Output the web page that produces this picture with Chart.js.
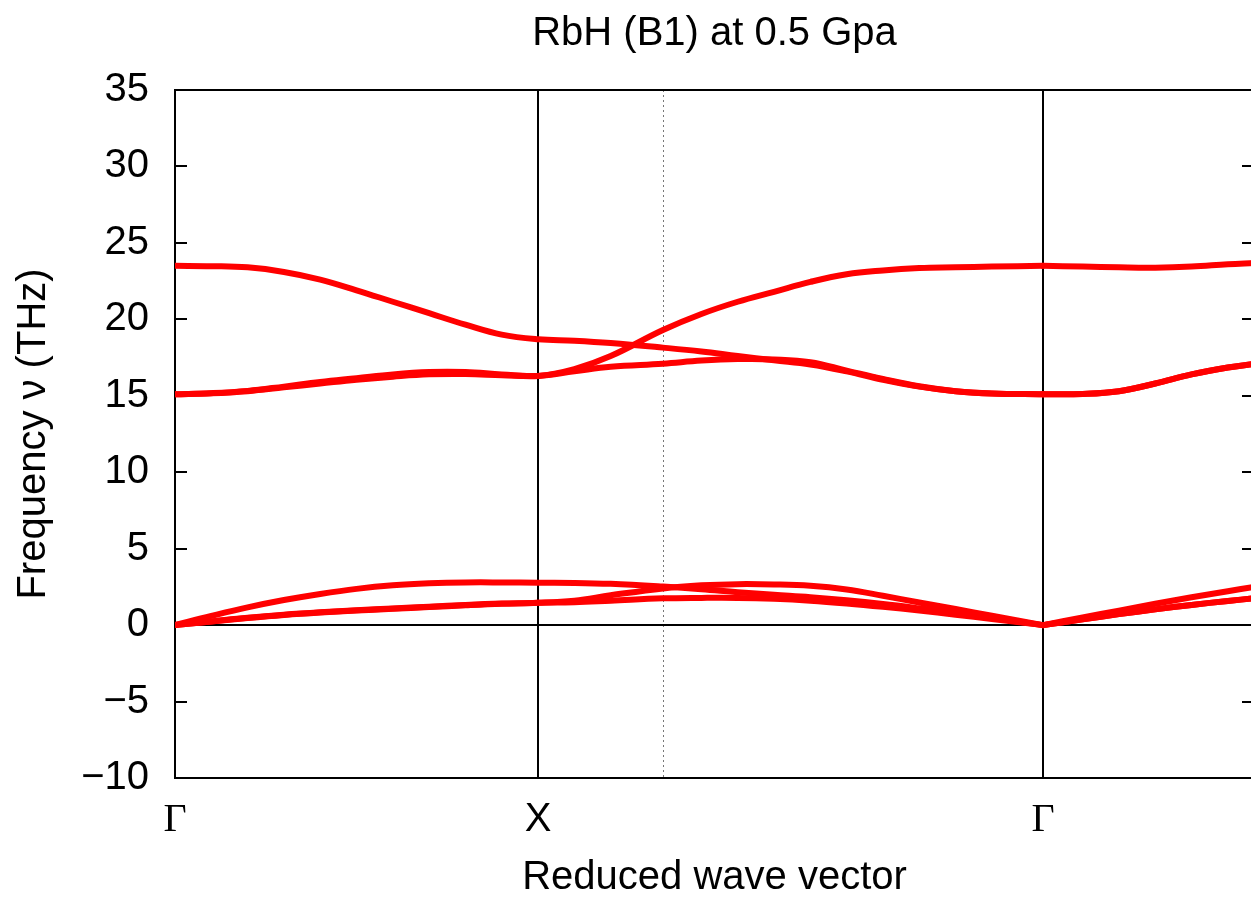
<!DOCTYPE html>
<html>
<head>
<meta charset="utf-8">
<title>RbH (B1) at 0.5 Gpa</title>
<script src="https://cdn.jsdelivr.net/npm/chart.js@4.4.1/dist/chart.umd.min.js"></script>
<style>
  html, body { margin: 0; padding: 0; overflow: hidden; background: #fff; }
  #wrap { width: 1262px; height: 902px; }
</style>
</head>
<body>
<div id="wrap"><canvas id="bands" width="1262" height="902"></canvas></div>
<script>
// path coordinate along Γ-X-U|K-Γ (reduced units)
const kPath = [0, 0.1, 0.2, 0.3, 0.4, 0.5, 0.6, 0.7, 0.8, 0.9, 1.0, 1.1, 1.2, 1.344,
  1.45, 1.55, 1.65, 1.75, 1.85, 1.95, 2.05, 2.15, 2.25, 2.391];
// path coordinate along Γ-L (visible part)
const kPathL = [2.391, 2.5, 2.6, 2.7, 2.8, 2.9, 2.972];

// symmetry points
const symPos = [0, 1, 2.391];
const symLabels = ['Γ', 'X', 'Γ'];
const breakPos = [1.344];

// y ticks
const yMin = -10, yMax = 35, yStep = 5;

// optical branches, Γ-X-U|K-Γ
const opt1 = [23.5, 23.48, 23.4, 23.1, 22.6, 21.9, 21.15, 20.4, 19.65, 19.0, 18.7, 18.6, 18.45, 18.15,
  17.9, 17.6, 17.32, 17.05, 16.6, 16.05, 15.6, 15.3, 15.15, 15.1];
const opt2 = [15.1, 15.17, 15.32, 15.6, 15.9, 16.15, 16.4, 16.55, 16.55, 16.4, 16.3, 16.75, 17.6, 19.3,
  20.35, 21.15, 21.8, 22.45, 22.95, 23.2, 23.35, 23.4, 23.45, 23.5];
const opt3 = [15.1, 15.16, 15.3, 15.55, 15.8, 16.05, 16.25, 16.4, 16.42, 16.35, 16.3, 16.6, 16.9, 17.1,
  17.3, 17.4, 17.38, 17.2, 16.65, 16.1, 15.62, 15.3, 15.15, 15.1];
// acoustic branches, Γ-X-U|K-Γ
const ac1 = [0, 0.6, 1.16, 1.64, 2.04, 2.37, 2.6, 2.73, 2.79, 2.79, 2.77, 2.76, 2.7, 2.52,
  2.35, 2.15, 1.98, 1.82, 1.62, 1.38, 1.1, 0.8, 0.48, 0];
const ac2 = [0, 0.24, 0.48, 0.68, 0.84, 0.97, 1.09, 1.2, 1.32, 1.41, 1.46, 1.6, 1.95, 2.4,
  2.6, 2.68, 2.66, 2.57, 2.33, 1.92, 1.48, 1.05, 0.62, 0];
const ac3 = [0, 0.23, 0.46, 0.66, 0.82, 0.95, 1.07, 1.18, 1.3, 1.4, 1.46, 1.5, 1.6, 1.75,
  1.78, 1.78, 1.72, 1.6, 1.42, 1.2, 0.95, 0.68, 0.4, 0];

// branches along Γ-L
const optL1 = [23.5, 23.45, 23.4, 23.38, 23.45, 23.6, 23.68];
const optL2 = [15.1, 15.12, 15.3, 15.8, 16.4, 16.85, 17.08];
const optL3 = [15.1, 15.12, 15.3, 15.8, 16.4, 16.85, 17.08];
const acL1 = [0, 0.5, 0.95, 1.4, 1.82, 2.22, 2.5];
const acL2 = [0, 0.38, 0.72, 1.03, 1.32, 1.58, 1.75];
const acL3 = [0, 0.38, 0.72, 1.03, 1.32, 1.58, 1.75];

const seg1 = [opt1, opt2, opt3, ac1, ac2, ac3];
const seg2 = [optL1, optL2, optL3, acL1, acL2, acL3];

function makeSet(xs, ys) {
  return {
    data: xs.map((x, i) => ({ x: x, y: ys[i] })),
    borderColor: '#ff0000',
    borderWidth: 6,
    pointRadius: 0,
    fill: false,
    tension: 0.4,
    borderJoinStyle: 'round',
    borderCapStyle: 'round'
  };
}

const datasets = seg1.map(b => makeSet(kPath, b)).concat(seg2.map(b => makeSet(kPathL, b)));

// frame, symmetry lines, zero line and inward ticks
const framePlugin = {
  id: 'frame',
  beforeDatasetsDraw(chart) {
    const { ctx, chartArea: a, scales: { x, y } } = chart;
    ctx.save();
    // dotted break line
    ctx.strokeStyle = '#777';
    ctx.lineWidth = 1;
    ctx.setLineDash([2, 3]);
    breakPos.forEach(v => {
      const px = Math.round(x.getPixelForValue(v)) + 0.5;
      ctx.beginPath(); ctx.moveTo(px, a.top); ctx.lineTo(px, a.bottom); ctx.stroke();
    });
    ctx.setLineDash([]);
    ctx.strokeStyle = '#000';
    ctx.lineWidth = 2;
    symPos.forEach(v => {
      const px = Math.round(x.getPixelForValue(v));
      ctx.beginPath(); ctx.moveTo(px, a.top); ctx.lineTo(px, a.bottom); ctx.stroke();
    });
    const y0 = Math.round(y.getPixelForValue(0));
    ctx.beginPath(); ctx.moveTo(a.left, y0); ctx.lineTo(a.right, y0); ctx.stroke();
    // ticks
    for (let v = yMin; v <= yMax; v += yStep) {
      const py = Math.round(y.getPixelForValue(v));
      ctx.beginPath();
      ctx.moveTo(a.left, py); ctx.lineTo(a.left + 12, py);
      ctx.moveTo(a.right, py); ctx.lineTo(a.right - 12, py);
      ctx.stroke();
    }
    ctx.strokeRect(Math.round(a.left), Math.round(a.top), Math.round(a.right - a.left), Math.round(a.bottom - a.top));
    ctx.restore();
  }
};

Chart.defaults.font.family = "'Liberation Sans', Arial, sans-serif";
Chart.defaults.color = '#000';

new Chart(document.getElementById('bands'), {
  type: 'line',
  data: { datasets: datasets },
  options: {
    responsive: false,
    animation: false,
    layout: { padding: { left: 0, right: 8, top: 0, bottom: 0 } },
    plugins: {
      legend: { display: false },
      tooltip: { enabled: false },
      title: {
        display: true,
        text: 'RbH (B1) at 0.5 Gpa',
        fullSize: false,
        color: '#000',
        font: { size: 40, weight: 'normal', lineHeight: 1.2 },
        padding: { top: 10, bottom: 32 }
      }
    },
    scales: {
      x: {
        type: 'linear',
        min: 0,
        max: 2.972,
        afterBuildTicks: s => { s.ticks = symPos.map(v => ({ value: v })); },
        afterFit: s => { s.height = 124; },
        grid: { display: false, drawTicks: false },
        border: { display: false },
        ticks: {
          autoSkip: false,
          maxRotation: 0,
          padding: 18,
          callback: (v, i) => symLabels[i],
          font: c => symLabels[c.index] === 'Γ'
            ? { family: "'Liberation Serif', 'DejaVu Serif', serif", size: 40 }
            : { size: 40 }
        },
        title: {
          display: true,
          text: 'Reduced wave vector',
          font: { size: 40, lineHeight: 1.2 },
          padding: { top: 0, bottom: 0 }
        }
      },
      y: {
        min: yMin,
        max: yMax,
        afterFit: s => { s.width = 175; },
        grid: { display: false, drawTicks: false },
        border: { display: false },
        ticks: {
          stepSize: yStep,
          padding: 26,
          font: { size: 40 },
          callback: v => v < 0 ? '\u2212' + Math.abs(v) : String(v)
        },
        title: {
          display: true,
          text: 'Frequency ν (THz)',
          font: { size: 40, lineHeight: 1.2 },
          padding: { top: 10, bottom: 0 }
        }
      }
    }
  },
  plugins: [framePlugin]
});
</script>
</body>
</html>
